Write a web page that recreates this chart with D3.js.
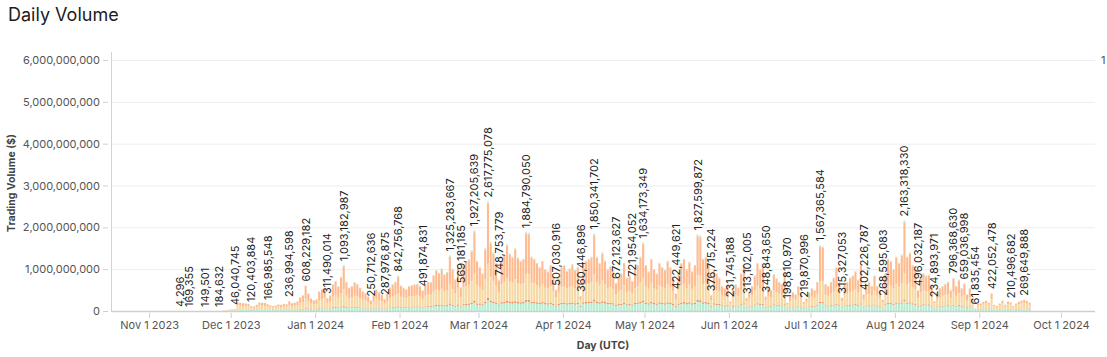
<!DOCTYPE html>
<html><head><meta charset="utf-8">
<script src="https://cdn.jsdelivr.net/npm/d3@7"></script>
<style>
body{margin:0;background:#fff;}
svg{display:block;font-family:Inter,"Liberation Sans",Arial,sans-serif;}
</style></head><body>
<svg id="chart" width="1107" height="357"></svg>
<script>
// ---------- DATA (daily, USD millions), first day = 2023-11-11 ----------
const startDate = "2023-11-11";
const total = [
 0.05,0.004296,0.2,0.15,0.169355,0.25,0.2,0.3,0.35,0.25,0.149501,0.3,0.4,0.5,0.6,0.184632,4,15,25,35,
 40,46.040745,210,200,190,185,170,120.403884,110,150,205,200,195,166.985548,140,120,135,160,150,170,165,236.994598,190,200,230,330,380,608.229182,420,300,260,
 280,470,520,560,311.490014,380,640,720,590,820,1093.182987,700,560,600,690,650,560,470,430,350,250.712636,380,520,460,390,287.976875,420,570,640,700,842.756768,
 610,560,520,600,620,640,650,600,491.874831,640,700,690,860,980,910,1020,880,930,1325.283667,1010,760,1070,569.181185,1100,1180,1240,1450,1927.205639,1200,
 1050,900,1500,2617.775078,1650,1400,1150,748.753779,1200,1350,1600,1380,1300,1500,1280,1200,1250,1884.79005,1870,1300,1250,1150,1050,1200,1000,950,1100,820,507.030916,780,1050,
 1100,960,1020,1120,980,1050,360.446896,1150,1200,1250,1300,1850.341702,1300,1150,1400,1200,1000,1080,950,672.123627,820,900,1150,800,850,721.954052,1000,1100,1300,1634.173349,
 1100,950,1250,1000,900,1150,1050,980,1200,1050,800,422.449621,900,1150,1250,1000,1180,950,1100,1827.599872,1800,1250,1300,1100,376.715224,1000,900,800,600,550,620,
 231.745188,520,640,560,900,1100,313.102005,450,600,850,1150,1000,1050,348.84365,560,500,880,780,700,650,900,198.81097,350,450,400,600,450,219.870996,300,450,
 550,500,700,1567.365584,1540,650,600,700,800,1050,700,315.327053,650,700,800,850,950,750,1100,402.226787,650,700,600,850,600,500,268.595083,900,1250,1200,1000,
 1300,1150,1350,2163.31833,1300,1400,1100,1000,496.032187,800,900,850,870,600,234.893971,450,550,600,650,700,500,796.36863,600,750,550,659.036998,400,550,300,61.835454,180,
 180,220,250,200,422.052478,150,120,180,250,150,230,210.496682,120,180,220,250,269.649888,240,200
];
const mint = [
 0,0,0,0,0,0,0,0,0,0,0,0,0,0,0,0,0.4,1.5,3,4,
 4,5,30,30,28,28,26,22,20,24,30,30,28,26,24,22,24,26,24,26,26,32,28,28,32,40,44,55,48,40,36,
 40,60,65,70,50,55,75,80,72,85,100,80,70,75,80,78,72,65,62,55,45,58,68,64,58,50,60,72,78,82,92,
 85,80,78,85,88,90,92,88,75,92,98,98,110,120,115,125,112,118,150,125,105,130,90,135,140,150,165,200,150,
 150,135,185,260,210,190,170,130,175,185,200,190,180,195,180,175,180,220,220,185,180,175,165,180,160,155,170,140,110,140,165,
 170,155,160,170,155,165,100,175,180,185,190,230,190,175,195,180,160,165,155,125,140,145,170,135,140,130,160,170,185,210,
 170,155,180,160,150,175,165,155,175,165,140,100,150,170,180,160,175,155,165,220,215,175,180,165,95,155,145,140,115,110,115,
 70,105,115,110,140,160,80,95,110,135,160,145,150,85,110,100,140,130,120,115,140,60,80,95,88,110,95,62,75,95,
 105,100,120,190,185,115,110,120,130,150,120,80,115,120,130,135,145,125,160,90,115,120,110,135,110,100,70,140,170,165,150,
 175,160,180,240,175,180,160,150,100,130,140,135,138,110,65,92,100,110,115,120,100,130,110,125,105,115,85,100,70,18,40,
 40,45,50,42,70,35,30,40,48,35,45,42,30,40,45,48,50,46,42
];
const coral = [
 0,0,0,0,0,0,0,0,0,0,0,0,0,0,0,0,0.1,0.4,0.6,0.8,
 1,1,6,6,5,5,5,4,4,5,6,6,5,5,4,4,5,5,5,5,5,7,6,6,7,9,10,14,11,8,7,
 8,12,13,14,9,10,15,16,14,17,22,16,13,14,16,15,13,11,10,9,7,10,12,11,9,8,10,13,15,16,19,
 16,15,14,16,16,17,17,16,13,17,18,18,22,24,23,25,22,23,30,25,20,26,17,27,28,30,34,40,30,
 30,27,36,50,40,36,32,24,34,36,40,37,35,38,34,33,34,42,42,35,34,33,31,34,30,29,32,26,20,26,31,
 32,29,30,32,29,31,18,33,34,35,36,44,36,33,37,34,30,31,29,23,26,27,32,25,26,24,30,32,35,40,
 32,29,34,30,28,33,31,29,33,31,26,18,28,32,34,30,33,29,31,42,41,33,34,31,17,29,27,26,21,20,21,
 10,15,16,15,20,23,11,13,15,19,23,21,22,12,15,14,20,19,17,16,20,8,11,13,12,15,13,9,10,13,
 15,14,17,27,26,16,15,17,18,21,17,11,16,17,18,19,21,18,23,13,16,17,15,19,15,14,10,20,24,23,21,
 25,23,26,34,25,26,23,21,14,19,20,19,20,16,9,13,14,16,16,17,14,19,16,18,15,16,12,14,10,3,6,
 6,6,7,6,10,5,4,6,7,5,6,6,4,6,6,7,7,7,6
];
const beige = [
 0,0,0,0,0,0,0,0,0,0,0,0,0,0,0,0,1.5,6,10,14,
 18,20,95,90,85,82,76,54,50,68,92,90,88,75,63,54,60,72,68,76,74,105,85,90,100,140,160,240,175,130,112,
 120,190,210,225,135,160,250,280,235,315,400,270,220,235,270,255,220,190,175,145,108,158,210,188,162,122,172,230,255,275,320,
 240,225,210,240,248,255,260,240,200,255,275,272,330,370,345,380,335,350,470,375,290,395,225,405,430,450,520,650,440,
 390,340,530,820,570,495,410,290,425,475,550,485,460,525,455,430,445,620,615,460,445,410,380,425,365,350,395,305,200,290,380,
 395,350,370,400,355,380,150,410,425,440,460,610,460,410,490,425,360,385,345,250,300,325,410,295,315,270,360,390,455,545,
 395,345,445,360,330,410,375,355,425,375,295,165,330,410,440,360,420,345,395,600,590,440,460,395,150,360,330,295,230,210,235,
 105,215,255,230,345,405,140,190,245,330,420,375,390,155,230,210,335,300,275,255,345,95,150,190,170,245,190,100,135,190,
 220,205,275,500,495,255,240,275,310,385,275,140,255,275,310,325,360,295,400,175,255,275,240,325,240,205,125,340,440,425,370,
 440,400,460,620,440,470,385,355,190,300,330,315,320,235,110,185,220,235,255,270,200,300,235,285,220,250,160,220,130,30,85,
 90,110,125,100,200,75,60,90,125,75,115,105,60,90,110,125,135,120,100
];
const cap = [
 0,0,0,0,0,0,0,0,0,0,0,0,0,0,0,0,0.1,0.3,0.5,0.7,
 1,1,5,5,5,5,4,3,3,4,5,5,5,4,4,3,3,4,4,4,4,6,5,5,6,8,9,14,10,7,6,
 7,11,12,13,7,9,15,17,14,19,25,16,13,14,16,15,13,11,10,8,6,9,12,11,9,7,10,13,15,16,19,
 14,13,12,14,14,15,15,14,11,15,16,16,20,22,21,23,20,21,30,23,17,24,13,25,27,28,33,44,27,
 24,20,34,58,37,31,26,17,27,30,36,31,29,34,29,27,28,42,42,29,28,26,24,27,22,21,25,18,11,17,24,
 25,22,23,25,22,24,8,26,27,28,29,41,29,26,31,27,22,24,21,15,18,20,26,18,19,16,22,25,29,36,
 25,21,28,22,20,26,24,22,27,24,18,9,20,26,28,22,26,21,25,41,40,28,29,25,8,22,20,18,13,12,14,
 5,12,14,12,20,25,7,10,13,19,26,22,23,8,12,11,20,17,16,14,20,4,8,10,9,13,10,5,7,10,
 12,11,16,35,34,14,13,16,18,23,16,7,14,16,18,19,21,17,25,9,14,16,13,19,13,11,6,20,28,27,22,
 29,26,30,48,29,31,25,22,11,18,20,19,19,13,5,10,12,13,14,16,11,18,13,17,12,15,9,12,7,1,4,
 4,5,6,4,9,3,3,4,6,3,5,5,3,4,5,6,6,5,4
];
const labelDates = [
 "2023-11-12","2023-11-15","2023-11-21","2023-11-26","2023-12-02","2023-12-08","2023-12-14","2023-12-22","2023-12-28",
 "2024-01-05","2024-01-11","2024-01-21","2024-01-26","2024-01-31","2024-02-09","2024-02-19","2024-02-23","2024-02-28",
 "2024-03-04","2024-03-08","2024-03-18","2024-03-29","2024-04-07","2024-04-12","2024-04-20","2024-04-26","2024-04-30",
 "2024-05-12","2024-05-20","2024-05-25","2024-06-01","2024-06-07","2024-06-14","2024-06-22","2024-06-28","2024-07-04",
 "2024-07-12","2024-07-20","2024-07-27","2024-08-04","2024-08-09","2024-08-15","2024-08-22","2024-08-26","2024-08-30",
 "2024-09-05","2024-09-12","2024-09-17"
];
const yTicks = [0,1e9,2e9,3e9,4e9,5e9,6e9];
const xTicks = ["2023-11-01","2023-12-01","2024-01-01","2024-02-01","2024-03-01","2024-04-01","2024-05-01","2024-06-01","2024-07-01","2024-08-01","2024-09-01","2024-10-01"];
const seriesKeys = ["mint","coral","beige","peach","cap"];
const seriesColors = ["#b6edd1","#ef8a5f","#f5d8a3","#ffbb90","#c9e8d3"];

// ---------- BUILD ----------
const parse = d3.utcParse("%Y-%m-%d");
const start = parse(startDate);
const rows = total.map((t,i)=>{
  const r = {date: d3.utcDay.offset(start,i), total: t*1e6,
    mint:(mint[i]||0)*1e6, coral:(coral[i]||0)*1e6, beige:(beige[i]||0)*1e6, cap:(cap[i]||0)*1e6};
  r.peach = Math.max(0, r.total - r.mint - r.coral - r.beige - r.cap);
  return r;
});

const svg = d3.select("#chart");
const L = 111, R = 1095, T = 60, B = 311;
const x = d3.scaleUtc().domain([parse("2023-10-18"), new Date(Date.UTC(2024,9,13,12))]).range([L,R]);
const y = d3.scaleLinear().domain([0,6e9]).range([B,T]);
const dayW = x(parse("2024-01-02")) - x(parse("2024-01-01"));
const bw = dayW*0.78;
const mid = d => d3.utcHour.offset(d,12);

svg.append("rect").attr("width",1107).attr("height",357).attr("fill","#fff");

// title
svg.append("text").attr("x",8).attr("y",21).attr("font-size",18).attr("fill","#1c1c1c").text("Daily Volume");

// gridlines
svg.append("g").selectAll("line").data(yTicks.filter(v=>v>0)).join("line")
  .attr("x1",L).attr("x2",R).attr("y1",d=>y(d)+0.5).attr("y2",d=>y(d)+0.5)
  .attr("stroke","#eeeeee").attr("stroke-width",1);

// bars
const stack = d3.stack().keys(seriesKeys)(rows);
const gBars = svg.append("g");
stack.forEach((layer,k)=>{
  gBars.append("g").attr("fill",seriesColors[k]).selectAll("rect").data(layer).join("rect")
    .attr("x",d=>x(mid(d.data.date))-bw/2).attr("width",bw)
    .attr("y",d=>y(d[1])).attr("height",d=>Math.max(0,y(d[0])-y(d[1])));
});

// axes lines
svg.append("line").attr("x1",L+0.5).attr("x2",L+0.5).attr("y1",52).attr("y2",B).attr("stroke","#d3d3d3");
svg.append("line").attr("x1",L).attr("x2",R).attr("y1",B+0.5).attr("y2",B+0.5).attr("stroke","#cfcfcf").attr("stroke-width",1.5);

// y axis
const ya = svg.append("g").attr("transform",`translate(${L-3},0)`)
  .call(d3.axisLeft(y).tickValues(yTicks).tickSize(5).tickPadding(3).tickFormat(d3.format(",")));
ya.select(".domain").remove();
ya.selectAll("line").attr("stroke","#cfcfcf");
ya.selectAll("text").attr("font-size",11).attr("fill","#555").attr("font-family","Inter,'Liberation Sans',Arial,sans-serif");

// x axis
const xa = svg.append("g").attr("transform",`translate(0,${B+2})`)
  .call(d3.axisBottom(x).tickValues(xTicks.map(parse)).tickSize(5).tickPadding(3).tickFormat(d3.utcFormat("%b %-d %Y")));
xa.select(".domain").remove();
xa.selectAll("line").attr("stroke","#cfcfcf");
xa.selectAll("text").attr("font-size",11).attr("fill","#555").attr("font-family","Inter,'Liberation Sans',Arial,sans-serif");

// axis titles
svg.append("text").attr("x",603).attr("y",349).attr("text-anchor","middle").attr("font-size",10.5)
  .attr("font-weight",700).attr("fill","#444").text("Day (UTC)");
svg.append("text").attr("transform","translate(15,183) rotate(-90)").attr("text-anchor","middle")
  .attr("font-size",10.5).attr("font-weight",700).attr("fill","#444").text("Trading Volume ($)");
svg.append("text").attr("x",1101).attr("y",64).attr("font-size",11).attr("fill","#555").text("1");

// data labels
const fmt = d3.format(",");
const labRows = labelDates.map(s=>rows.find(r=>+r.date===+parse(s))).filter(Boolean);
svg.append("g").selectAll("text").data(labRows).join("text")
  .attr("transform",d=>`translate(${x(mid(d.date))},${y(d.total)-4}) rotate(-90)`)
  .attr("text-anchor","start").attr("dominant-baseline","central")
  .attr("font-size",11).attr("fill","#1f1f1f")
  .text(d=>fmt(Math.round(d.total)));
</script>
</body></html>
